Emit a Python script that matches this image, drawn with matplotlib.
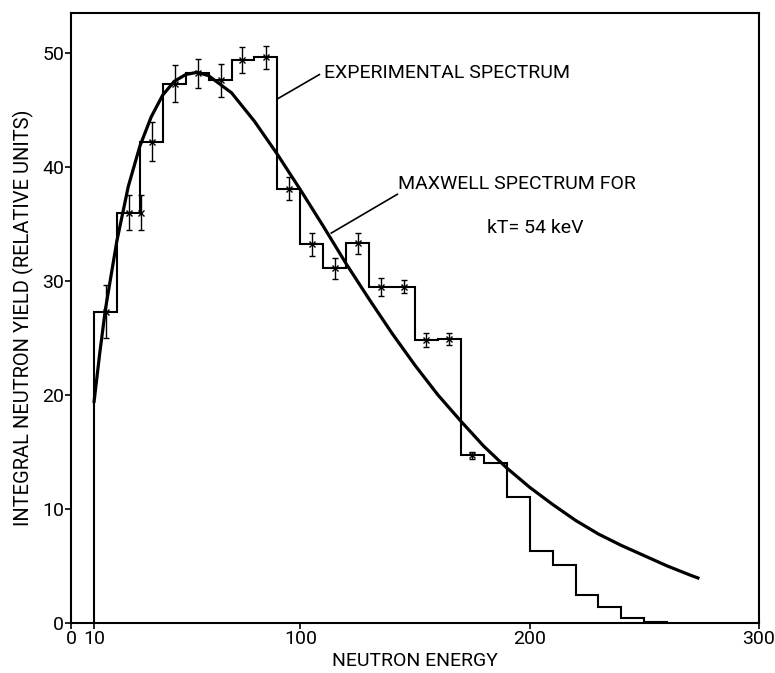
import matplotlib
matplotlib.use("Agg")
import matplotlib.pyplot as plt
import numpy as np

plt.rcParams['font.family'] = ['Roboto', 'DejaVu Sans']

# experimental spectrum: bin edges (keV) and integral yield per bin
bin_edges = [10, 20, 30, 40, 50, 60, 70, 80, 90, 100, 110, 120, 130, 140,
             150, 160, 170, 180, 190, 200, 210, 220, 230, 240, 250, 260]
bin_yield = [27.3, 36.0, 42.2, 47.3, 48.2, 47.6, 49.4, 49.6, 38.1, 33.2,
             31.1, 33.3, 29.5, 29.5, 24.8, 24.9, 14.7, 14.0, 11.05, 6.3,
             5.1, 2.45, 1.4, 0.4, 0.1]

# measured points with statistical errors
pt_energy = [15.2, 25.3, 30.5, 35.3, 45.4, 55.4, 65.5, 74.6, 85.1, 95.2,
             105.2, 115.2, 125.3, 135, 145, 155, 165, 175]
pt_yield = [27.3, 36.0, 36.0, 42.2, 47.3, 48.2, 47.6, 49.4, 49.6, 38.1,
            33.2, 31.1, 33.3, 29.5, 29.5, 24.8, 24.9, 14.7]
pt_err = [2.3, 1.5, 1.5, 1.7, 1.6, 1.3, 1.45, 1.15, 1.0, 1.0,
          1.0, 0.9, 0.9, 0.8, 0.6, 0.6, 0.5, 0.3]

# Maxwell spectrum, kT = 54 keV
mx_energy = [10, 12.5, 15, 20, 25, 30, 35, 40, 45, 50, 55, 60, 70, 80, 90,
             100, 110, 120, 130, 140, 150, 160, 170, 180, 190, 200, 210,
             220, 230, 240, 250, 260, 270, 274]
mx_yield = [19.3, 23.6, 27.5, 33.5, 38.3, 41.8, 44.4, 46.3, 47.5, 48.1,
            48.3, 48.0, 46.5, 44.0, 41.1, 38.0, 34.8, 31.5, 28.4, 25.4,
            22.6, 20.0, 17.7, 15.5, 13.6, 11.9, 10.4, 9.0, 7.8, 6.8, 5.9,
            5.0, 4.2, 3.9]

xticks = [0, 10, 100, 200, 300]
yticks = [0, 10, 20, 30, 40, 50]

fig = plt.figure(figsize=(7.75, 6.73), dpi=100)
ax = fig.add_axes([0.0916, 0.0743, 0.8878, 0.9064])

ax.stairs(bin_yield, bin_edges, baseline=0, color='black', lw=1.5)
ax.plot(mx_energy, mx_yield, color='black', lw=2.3, solid_capstyle='butt')
ax.errorbar(pt_energy, pt_yield, yerr=pt_err, fmt='x', color='black',
            ms=4, mew=1.0, elinewidth=1.0, capsize=2.5, capthick=1.0)

ax.set_xlim(0, 300)
ax.set_ylim(0, 53.5)
ax.set_xticks(xticks)
ax.set_xticklabels([str(t) for t in xticks])
ax.set_yticks(yticks)
ax.set_yticklabels([str(t) for t in yticks])
ax.tick_params(direction='out', length=4, width=1.2, labelsize=14, pad=1)
for s in ax.spines.values():
    s.set_linewidth(1.5)

ax.set_xlabel('NEUTRON ENERGY', fontsize=14, labelpad=3)
ax.set_ylabel('INTEGRAL NEUTRON YIELD (RELATIVE UNITS)', fontsize=14.5, labelpad=6)

ax.plot([90.3, 108.3], [46.0, 48.1], color='black', lw=1.2)
ax.text(110.4, 48.2, 'EXPERIMENTAL SPECTRUM', fontsize=14, va='center', ha='left')
ax.plot([113.5, 142.3], [34.2, 37.6], color='black', lw=1.2)
ax.text(142.5, 38.5, 'MAXWELL SPECTRUM FOR', fontsize=14, va='center', ha='left')
ax.text(181.6, 34.6, 'kT= 54 keV', fontsize=14, va='center', ha='left')

fig.savefig('out.png', dpi=100)
